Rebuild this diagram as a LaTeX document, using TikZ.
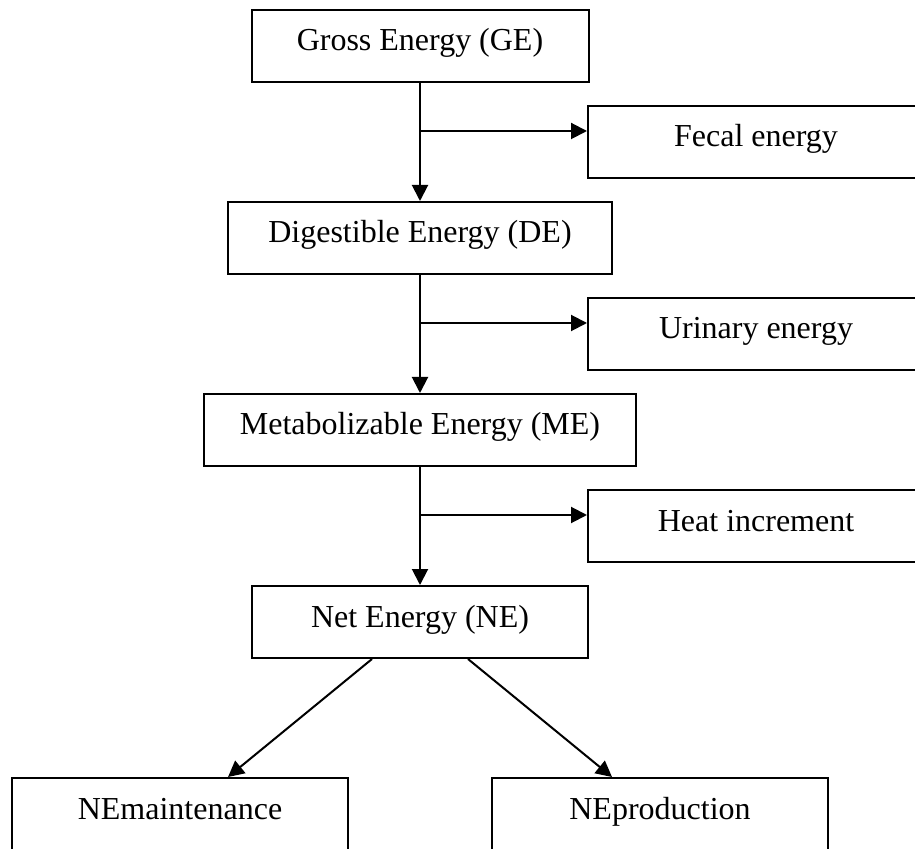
\documentclass[tikz,border=0pt]{standalone}
\usepackage{fontspec}
\setmainfont{Liberation Serif}
\usepackage{tikz}
\usetikzlibrary{arrows.meta}

\begin{document}
\begin{tikzpicture}[->,>={Triangle[length=8pt,width=8pt]},line width=1pt,node distance=96pt,
	box/.style={draw,rectangle,minimum height=36pt,inner sep=0pt,text height=11pt,text depth=6pt,font=\fontsize{16}{19}\selectfont}]
	\useasboundingbox (0,0) rectangle (457.5pt,-424.5pt);
	\node [box, minimum width=168.5pt] (GE) at (210pt,-23pt) {Gross Energy (GE)};
	\node [box, minimum width=192pt] (DE) [below of = GE] {Digestible Energy (DE)};
	\node [box, minimum width=216pt] (ME) [below of = DE] {Metabolizable Energy (ME)};
	\node [box, minimum width=168pt] (NE) [below of = ME] {Net Energy (NE)};

	\node [box, minimum width=168pt] (FE) at (378pt,-71pt) {Fecal energy};
	\node [box, minimum width=168pt] (UE) [below of = FE] {Urinary energy};
	\node [box, minimum width=168pt] (HI) [below of = UE] {Heat increment};

	\node [box, minimum width=168pt] (NEm) at (90pt,-407pt) {NEmaintenance};
	\node [box, minimum width=168pt] (NEp) at (330pt,-407pt) {NEproduction};

	\coordinate (b1) at ([yshift=-24pt]GE.south);
	\coordinate (b2) at ([yshift=-24pt]DE.south);
	\coordinate (b3) at ([yshift=-24pt]ME.south);

	\path (GE.south) edge (DE.north);
	\path (b1) edge (FE.west |- b1);

	\path (DE.south) edge (ME.north);
	\path (b2) edge (UE.west |- b2);

	\path (ME.south) edge (NE.north);
	\path (b3) edge (HI.west |- b3);

	\path ([xshift=-24pt]NE.south) edge ([xshift=24pt]NEm.north);
	\path ([xshift=24pt]NE.south) edge ([xshift=-24pt]NEp.north);
\end{tikzpicture}
\end{document}
